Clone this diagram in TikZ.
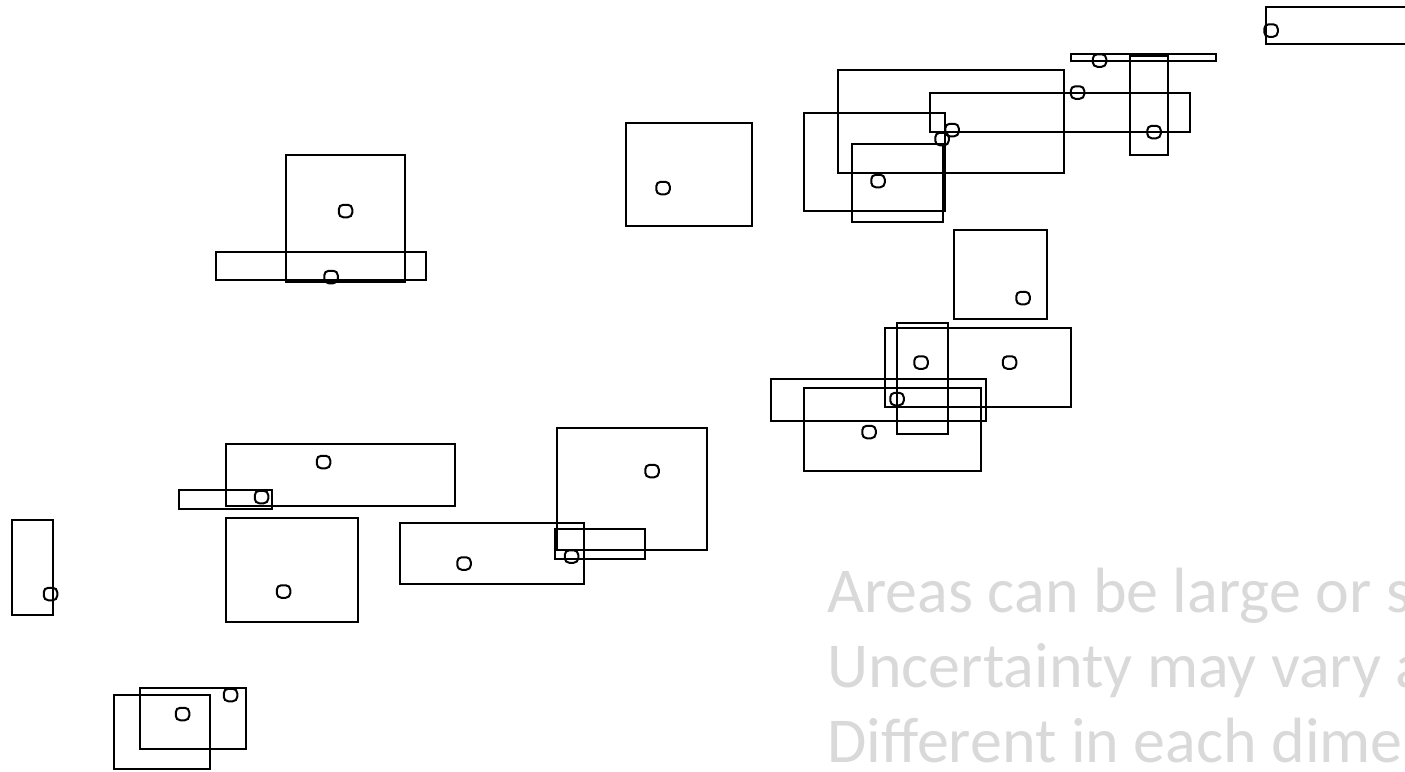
\documentclass[tikz,border=0pt]{standalone}
\usepackage{fontspec}
\setmainfont{Carlito}
\definecolor{notegray}{RGB}{217, 217, 217}
\usepackage{tikz}

\begin{document}
\begin{tikzpicture}[
    x=1pt, y=-1pt,
    area/.style={draw, line width=2pt},
    spot/.style={draw, line width=2pt, rounded corners=4.5pt, inner sep=0pt,
                 minimum width=13.5pt, minimum height=12.5pt},
    note/.style={anchor=base west, inner sep=0pt, text=notegray,
                 font=\fontsize{64}{75}\selectfont}
]
    \useasboundingbox (0,0) rectangle (1405,771);
    \clip (0,0) rectangle (1405,771);

    % uncertainty areas, each with its point
    \foreach \xa/\ya/\xb/\yb/\px/\py [count=\i] in {
        1266/7/1420/44/1271/30.5,
        1071/53.5/1216/60.5/1099.5/60.5,
        1130/56/1168/155/1154/132,
        837.5/70/1064/173/1077.5/92.5,
        930/92.5/1190/132/952/130,
        804/113/944.5/210.5/942/139,
        852/143.5/943/222/878/181,
        626/123/752/226/663/188,
        285.5/155/404.5/281.5/345.5/211,
        216/252/426/279.5/331/277,
        954/229.5/1047/318.5/1023/298,
        885/328/1071/406.5/1009.5/362.5,
        897/323/948/434/921/362.5,
        771/379/985.5/420.5/897/399,
        804/388/980.5/471/869/432,
        226/443.5/454.5/506/323.5/462,
        178.5/489.5/271.5/508.5/261.5/497,
        12/520/52.5/614.5/50.5/594,
        226/517.5/357.5/621.5/283.5/591.5,
        400/522.5/583.5/584/464/563.5,
        556.5/427.5/707/549.5/652/471,
        554.5/529/645/558.5/571.5/556.5,
        140/688/245.5/748.5/230.5/695,
        114/695/209.5/769/182.5/714} {
        \draw[area] (\xa,\ya) rectangle (\xb,\yb);
        \node[spot] (p\i) at (\px,\py) {};
    }

    % notes on the lower right
    \node[note] (n1) at (827,612) {Areas can be large or s};
    \node[note] (n2) at (827,687.5) {Uncertainty may vary a};
    \node[note] (n3) at (827,762.5) {Different in each dime};
\end{tikzpicture}
\end{document}
